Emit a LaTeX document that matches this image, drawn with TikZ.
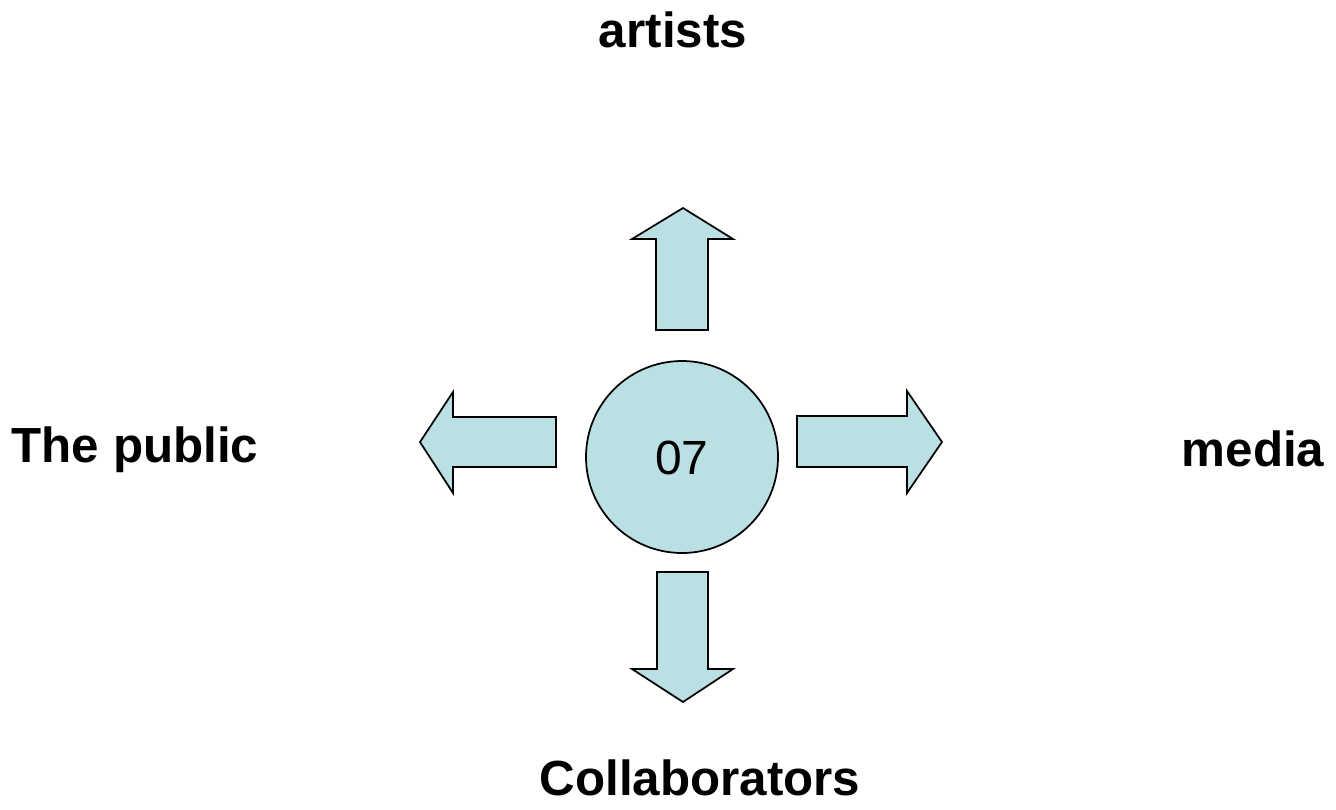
\documentclass[tikz,border=0pt]{standalone}
\usepackage{fontspec}
\setmainfont{Liberation Sans}
\definecolor{hubblue}{RGB}{187,224,227}
\begin{document}
\begin{tikzpicture}[x=0.75pt, y=-0.75pt,
                blk/.style={draw=black, fill=hubblue, line width=1.3pt},
                lbl/.style={anchor=base, inner sep=0pt, font=\fontsize{37}{44}\selectfont\bfseries}]
                \useasboundingbox (0,0) rectangle (1336,810);
                \node [blk, circle, minimum size=144pt, inner sep=0pt] (hub) at (682,457) {};
                \node [font=\fontsize{36}{43}\selectfont] (num) at (682,458) {07};
                % block arrows round the hub
                \draw [blk] (656,330) -- (656,239) -- (632,239) -- (683,208) -- (733,239) -- (708,239) -- (708,330) -- cycle;
                \draw [blk] (657,572) -- (708,572) -- (708,669) -- (733,669) -- (683,702) -- (632,669) -- (657,669) -- cycle;
                \draw [blk] (556,417) -- (453,417) -- (453,392) -- (420,442) -- (453,493) -- (453,467) -- (556,467) -- cycle;
                \draw [blk] (797,416) -- (907,416) -- (907,391) -- (942,442) -- (907,493) -- (907,467) -- (797,467) -- cycle;
                % labels
                \node [lbl] (artists) at (673,47) {artists};
                \node [lbl] (public) at (135,462) {The public};
                \node [lbl] (media) at (1253,466) {media};
                \node [lbl] (collab) at (700,795) {Collaborators};
            \end{tikzpicture}
\end{document}
